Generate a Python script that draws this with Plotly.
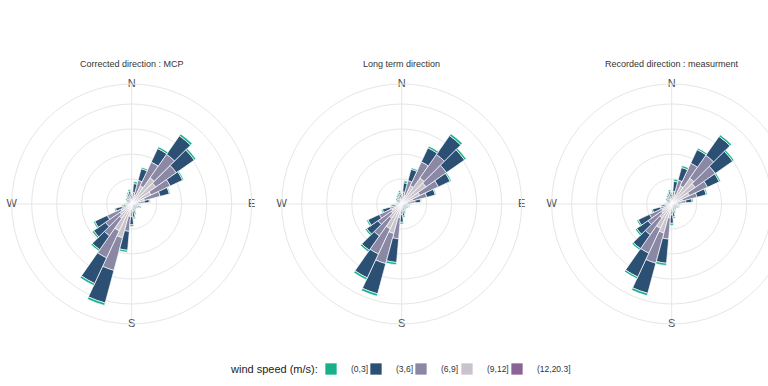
import math
import plotly.graph_objects as go

directions = [0, 10, 20, 30, 40, 50, 60, 70, 80, 90, 100, 110, 120, 130, 140, 150, 160, 170,
              180, 190, 200, 210, 220, 230, 240, 250, 260, 270, 280, 290, 300, 310, 320, 330, 340, 350]
compass_vals = [0, 90, 180, 270]
compass_text = ["N", "E", "S", "W"]
panel_titles = ["Corrected direction : MCP", "Long term direction", "Recorded direction : measurment"]
speed_bins = ["(0,3]", "(3,6]", "(6,9]", "(9,12]", "(12,20.3]"]
speed_colors = ["#18b08a", "#2b5074", "#8b88a6", "#c9c3cb", "#8a6496"]
legend_title = "wind speed (m/s):"

# ---- Corrected direction : MCP (frequency units) ----
mcp_0_3 = [0.05, 0.08, 0.06, 0.08, 0.09, 0.08, 0.05, 0.04, 0.04, 0.05, 0.05, 0.05, 0.05, 0.05, 0.05, 0.05, 0.06, 0.06,
           0.07, 0.08, 0.10, 0.09, 0.07, 0.07, 0.06, 0.05, 0.05, 0.05, 0.05, 0.04, 0.05, 0.05, 0.05, 0.06, 0.06, 0.07]
mcp_3_6 = [0.15, 0.35, 0.48, 0.60, 0.90, 0.88, 0.55, 0.38, 0.20, 0.14, 0.12, 0.17, 0.13, 0.11, 0.11, 0.13, 0.20, 0.25,
           0.33, 0.76, 1.35, 1.13, 0.68, 0.58, 0.55, 0.27, 0.15, 0.12, 0.11, 0.09, 0.10, 0.12, 0.12, 0.15, 0.18, 0.22]
mcp_6_9 = [0.12, 0.30, 0.60, 1.05, 1.15, 1.00, 0.85, 0.65, 0.30, 0.10, 0.08, 0.12, 0.08, 0.06, 0.06, 0.08, 0.12, 0.18,
           0.30, 0.60, 1.35, 1.20, 0.85, 0.70, 0.60, 0.22, 0.12, 0.08, 0.06, 0.05, 0.06, 0.08, 0.08, 0.12, 0.15, 0.18]
mcp_9_12 = [0.08, 0.15, 0.35, 0.75, 1.20, 1.10, 0.80, 0.50, 0.20, 0.06, 0.05, 0.06, 0.04, 0.03, 0.03, 0.04, 0.07, 0.10,
            0.18, 0.45, 1.20, 1.00, 0.60, 0.50, 0.42, 0.15, 0.07, 0.05, 0.03, 0.02, 0.04, 0.05, 0.05, 0.07, 0.10, 0.12]
mcp_12_20 = [0.00, 0.02, 0.03, 0.05, 0.08, 0.08, 0.05, 0.03, 0.01, 0.00, 0.00, 0.00, 0.00, 0.00, 0.00, 0.00, 0.00, 0.01,
             0.02, 0.05, 0.20, 0.18, 0.10, 0.08, 0.06, 0.03, 0.01, 0.00, 0.00, 0.00, 0.00, 0.00, 0.00, 0.00, 0.00, 0.00]

# ---- Long term direction ----
lt_0_3 = [0.05, 0.08, 0.06, 0.08, 0.09, 0.08, 0.05, 0.04, 0.04, 0.05, 0.05, 0.05, 0.05, 0.05, 0.05, 0.05, 0.06, 0.06,
          0.07, 0.09, 0.10, 0.09, 0.08, 0.07, 0.06, 0.05, 0.05, 0.05, 0.05, 0.04, 0.05, 0.05, 0.05, 0.06, 0.06, 0.07]
lt_3_6 = [0.15, 0.36, 0.47, 0.62, 0.92, 0.88, 0.52, 0.35, 0.22, 0.15, 0.12, 0.14, 0.12, 0.11, 0.11, 0.13, 0.18, 0.22,
          0.30, 0.95, 1.25, 1.05, 0.70, 0.55, 0.50, 0.32, 0.17, 0.12, 0.11, 0.09, 0.10, 0.12, 0.12, 0.14, 0.17, 0.20]
lt_6_9 = [0.12, 0.31, 0.60, 1.05, 1.15, 1.00, 0.82, 0.58, 0.32, 0.12, 0.08, 0.10, 0.08, 0.06, 0.06, 0.08, 0.10, 0.16,
          0.26, 0.85, 1.25, 1.12, 0.86, 0.65, 0.55, 0.28, 0.14, 0.08, 0.06, 0.05, 0.06, 0.08, 0.08, 0.10, 0.13, 0.16]
lt_9_12 = [0.08, 0.16, 0.34, 0.76, 1.19, 1.11, 0.76, 0.44, 0.21, 0.08, 0.05, 0.05, 0.04, 0.03, 0.03, 0.04, 0.06, 0.10,
           0.15, 0.50, 1.05, 0.93, 0.60, 0.45, 0.39, 0.17, 0.08, 0.05, 0.03, 0.02, 0.04, 0.05, 0.05, 0.07, 0.09, 0.11]
lt_12_20 = [0.00, 0.02, 0.03, 0.05, 0.08, 0.08, 0.04, 0.02, 0.01, 0.00, 0.00, 0.00, 0.00, 0.00, 0.00, 0.00, 0.00, 0.01,
            0.02, 0.05, 0.17, 0.16, 0.10, 0.06, 0.05, 0.03, 0.01, 0.00, 0.00, 0.00, 0.00, 0.00, 0.00, 0.00, 0.00, 0.00]

# ---- Recorded direction : measurment ----
rec_0_3 = [0.06, 0.09, 0.08, 0.07, 0.08, 0.07, 0.06, 0.05, 0.05, 0.05, 0.05, 0.05, 0.05, 0.05, 0.05, 0.05, 0.06, 0.06,
           0.08, 0.09, 0.10, 0.08, 0.07, 0.07, 0.06, 0.05, 0.05, 0.05, 0.05, 0.04, 0.05, 0.05, 0.05, 0.06, 0.06, 0.07]
rec_3_6 = [0.17, 0.40, 0.52, 0.60, 0.92, 0.85, 0.52, 0.38, 0.25, 0.15, 0.12, 0.14, 0.12, 0.11, 0.11, 0.13, 0.18, 0.24,
           0.33, 0.97, 1.25, 1.05, 0.68, 0.55, 0.50, 0.33, 0.17, 0.12, 0.11, 0.09, 0.10, 0.12, 0.12, 0.14, 0.17, 0.21]
rec_6_9 = [0.13, 0.33, 0.60, 1.00, 1.12, 0.98, 0.80, 0.60, 0.33, 0.12, 0.08, 0.10, 0.08, 0.06, 0.06, 0.08, 0.10, 0.17,
           0.27, 0.85, 1.25, 1.10, 0.82, 0.65, 0.55, 0.28, 0.14, 0.08, 0.06, 0.05, 0.06, 0.08, 0.08, 0.10, 0.13, 0.17]
rec_9_12 = [0.09, 0.16, 0.36, 0.75, 1.18, 1.08, 0.74, 0.43, 0.23, 0.08, 0.05, 0.05, 0.04, 0.03, 0.03, 0.04, 0.06, 0.10,
            0.15, 0.51, 1.03, 0.92, 0.58, 0.45, 0.38, 0.16, 0.08, 0.05, 0.03, 0.02, 0.04, 0.05, 0.05, 0.07, 0.09, 0.12]
rec_12_20 = [0.00, 0.02, 0.03, 0.05, 0.08, 0.07, 0.04, 0.02, 0.01, 0.00, 0.00, 0.00, 0.00, 0.00, 0.00, 0.00, 0.00, 0.01,
             0.02, 0.05, 0.17, 0.15, 0.10, 0.06, 0.05, 0.03, 0.01, 0.00, 0.00, 0.00, 0.00, 0.00, 0.00, 0.00, 0.00, 0.00]

panels = [
    [mcp_0_3, mcp_3_6, mcp_6_9, mcp_9_12, mcp_12_20],
    [lt_0_3, lt_3_6, lt_6_9, lt_9_12, lt_12_20],
    [rec_0_3, rec_3_6, rec_6_9, rec_9_12, rec_12_20],
]

FONT = "Liberation Sans, Arial, sans-serif"
VIEW_W = 768
W, H = 800, 386
centers_px = [131.7, 401.7, 671.7]
center_y_px = 204
radius_px = 120
r_max = 4.8
legend_key_centers_px = [331, 376, 421, 467, 517]
legend_title_right_px = 320
legend_y_px = 369


def legend_id(k):
    return "legend" if k == 0 else f"legend{k + 1}"


fig = go.Figure()
for p, series in enumerate(panels):
    pname = "polar" if p == 0 else f"polar{p + 1}"
    # stack from the centre outward: highest speed first
    for k in reversed(range(len(speed_bins))):
        fig.add_trace(go.Barpolar(
            r=series[k], theta=directions, width=10,
            name=speed_bins[k], legendgroup=speed_bins[k], legend=legend_id(k),
            showlegend=(p == 0),
            marker=dict(color=speed_colors[k], line=dict(color="white", width=0.7)),
            subplot=pname,
        ))
    # compass labels sitting on the outer circle (only those inside the visible page)
    cx = centers_px[p]
    vis = [i for i, a in enumerate(compass_vals)
           if cx + (radius_px + 6) * math.sin(math.radians(a)) < VIEW_W]
    fig.add_trace(go.Scatterpolar(
        r=[r_max] * len(vis), theta=[compass_vals[i] for i in vis], text=[compass_text[i] for i in vis],
        mode="text", textfont=dict(family=FONT, size=11, color="#4d4d4d"), cliponaxis=False,
        showlegend=False, hoverinfo="skip", subplot=pname,
    ))

grid_col = "#e6e6e6"
polar_common = dict(
    bgcolor="white",
    radialaxis=dict(range=[0, r_max], tickvals=[1, 2, 3, 4], showticklabels=False, ticks="",
                    showline=False, gridcolor=grid_col, gridwidth=1),
    angularaxis=dict(rotation=90, direction="clockwise", tickmode="array", tickvals=compass_vals,
                     showticklabels=False, ticks="", showline=True, linecolor=grid_col, linewidth=1,
                     gridcolor=grid_col, gridwidth=1),
)
yd = [(H - center_y_px - radius_px) / H, (H - center_y_px + radius_px) / H]
layout_extra = {}
for p, cx in enumerate(centers_px):
    pname = "polar" if p == 0 else f"polar{p + 1}"
    layout_extra[pname] = dict(domain=dict(x=[(cx - radius_px) / W, (cx + radius_px) / W], y=yd),
                               **polar_common)

for k, kc in enumerate(legend_key_centers_px):
    layout_extra[legend_id(k)] = dict(
        orientation="h", x=(kc - 20) / W, xanchor="left", y=1 - legend_y_px / H, yanchor="middle",
        font=dict(family=FONT, size=8.5, color="#333333"), itemwidth=30, bgcolor="rgba(0,0,0,0)")

annotations = [dict(text=t, x=cx / W, y=1 - 64 / H, xref="paper", yref="paper", showarrow=False,
                    xanchor="center", yanchor="middle",
                    font=dict(family=FONT, size=9, color="#333333"))
               for t, cx in zip(panel_titles, centers_px)]
annotations.append(dict(text=legend_title, x=legend_title_right_px / W, y=1 - legend_y_px / H,
                        xref="paper", yref="paper", showarrow=False, xanchor="right", yanchor="middle",
                        font=dict(family=FONT, size=11, color="#222222")))

fig.update_layout(
    width=W, height=H, margin=dict(l=0, r=0, t=0, b=0),
    paper_bgcolor="white", plot_bgcolor="white",
    annotations=annotations,
    **layout_extra,
)

fig.write_html("out.html", config={"displayModeBar": False},
               post_script="document.body.style.margin='0';document.body.style.overflow='hidden';")
